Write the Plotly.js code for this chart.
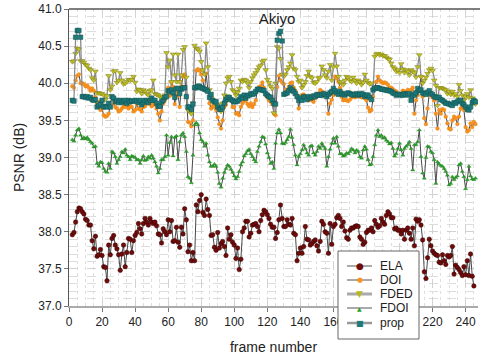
<!DOCTYPE html>
<html><head><meta charset="utf-8">
<script src="https://cdn.plot.ly/plotly-3.0.1.min.js"></script>
<style>html,body{margin:0;padding:0;background:#fff}#chart{width:480px;height:358px}</style>
</head><body><div id="chart"></div>
<script>
const firstFrame = 2, lastFrame = 246;
const frames = [];
for (let f = firstFrame; f <= lastFrame; f++) frames.push(f);

// x tick labels; 180 and 200 sit behind the legend box in the reference
const xTickVals = [0, 20, 40, 60, 80, 100, 120, 140, 160, 180, 200, 220, 240];
const xTickText = ['0', '20', '40', '60', '80', '100', '120', '140', '160', '', '', '220', '240'];

const ELA = [
37.96,37.99,38.13,38.27,38.32,38.31,38.27,38.24,38.17,38.15,
38.09,38.09,37.88,37.77,37.94,37.67,37.69,37.76,37.68,37.53,
37.52,37.34,37.82,37.69,37.91,37.95,37.82,37.77,37.69,37.48,
37.70,37.82,37.53,37.72,37.91,37.90,37.72,37.88,37.95,37.99,
38.11,38.04,37.97,38.11,38.18,38.13,38.09,38.18,38.13,38.11,
38.13,38.08,37.97,37.96,37.85,38.04,38.00,37.96,38.16,38.00,
38.15,37.87,37.88,38.06,37.86,37.79,38.06,37.97,38.31,38.16,
37.73,37.82,37.61,37.72,37.61,38.36,38.27,38.42,38.50,38.26,
38.22,38.44,38.30,38.22,37.95,37.96,37.79,37.75,37.99,37.78,
37.84,37.87,37.80,37.68,38.05,37.90,37.96,37.86,37.82,37.64,
37.78,37.49,37.63,38.00,38.05,38.14,38.14,37.93,37.98,38.09,
38.10,38.11,38.07,38.00,38.15,38.23,38.29,38.27,38.23,38.18,
38.10,38.06,38.06,37.91,37.99,38.16,38.36,38.18,38.07,38.07,
38.16,38.10,38.09,38.18,37.98,37.96,37.61,37.71,37.78,37.71,
37.80,38.07,37.90,37.89,37.82,37.84,37.87,37.89,37.81,37.74,
37.87,38.14,38.10,38.00,37.98,37.71,38.11,37.83,38.07,38.10,
38.19,38.22,38.18,38.07,38.13,38.01,37.92,37.90,38.02,38.05,
38.05,38.07,38.08,38.07,37.93,37.90,37.83,37.86,37.99,38.02,
38.02,38.05,38.00,38.15,38.10,38.06,38.08,38.18,38.13,38.10,
38.22,38.27,38.24,38.19,38.19,38.04,38.05,38.02,38.02,37.97,
38.02,37.90,38.02,38.05,37.98,37.90,38.05,37.81,38.17,38.14,
38.16,38.09,37.89,37.46,37.37,37.65,37.90,37.81,37.74,37.71,
37.69,37.68,37.59,37.58,37.69,37.61,37.56,37.68,37.66,37.68,
37.80,37.43,37.55,37.52,37.49,37.45,37.41,37.53,37.42,37.61,
37.41,37.70,37.40,37.27,null];

const DOI = [
39.96,39.94,40.04,40.10,40.12,40.00,40.00,39.99,39.96,39.97,
39.94,39.90,39.93,39.90,39.81,39.73,39.75,39.64,39.66,39.57,
39.55,39.56,39.59,39.69,39.81,39.73,39.68,39.66,39.62,39.63,
39.66,39.69,39.68,39.72,39.66,39.69,39.68,39.62,39.64,39.72,
39.66,39.65,39.62,39.68,39.69,39.73,39.74,39.72,39.69,39.71,
39.72,39.66,39.59,39.50,39.62,39.73,39.77,39.82,39.94,39.83,
40.01,39.95,39.72,39.87,39.83,39.68,39.96,40.09,40.12,39.82,
39.48,39.47,39.42,39.50,39.93,40.17,40.19,40.17,40.12,40.04,
39.91,40.13,39.92,39.73,39.66,39.69,39.68,39.64,39.54,39.45,
39.39,39.50,39.68,39.71,39.77,39.82,39.77,39.68,39.68,39.59,
39.60,39.57,39.68,39.73,39.76,39.77,39.72,39.69,39.73,39.68,
39.72,39.77,39.91,39.95,39.96,40.01,39.94,39.84,39.81,39.77,
39.75,39.72,39.59,39.57,39.95,40.10,40.04,40.01,39.99,39.91,
39.90,39.95,40.00,40.01,39.94,39.90,39.84,39.66,39.81,39.84,
39.85,39.82,39.81,39.77,39.81,39.77,39.75,39.80,39.82,39.86,
39.91,39.89,39.85,39.85,39.84,39.59,39.73,39.78,39.84,40.09,
40.07,40.02,39.94,39.82,39.77,39.78,39.77,39.76,39.78,39.81,
39.83,39.81,39.82,39.83,39.82,39.81,39.83,39.80,39.77,39.67,
39.62,39.64,39.82,39.94,40.02,40.09,40.04,40.02,40.00,40.01,
40.00,39.98,39.94,39.94,39.92,39.90,39.89,39.86,39.86,39.86,
39.90,39.89,39.87,39.91,39.90,39.91,39.94,39.59,39.77,39.84,
39.93,40.09,39.82,39.53,39.45,39.66,39.86,39.84,39.81,39.77,
39.59,39.39,39.64,39.59,39.65,39.64,39.55,39.46,39.39,39.38,
39.50,39.55,39.53,39.45,39.55,39.66,39.68,39.64,39.41,39.35,
39.37,39.46,39.41,39.48,39.45];

const FDED = [
40.29,40.30,40.40,40.47,40.46,40.30,40.30,40.28,40.25,40.24,
40.20,40.18,40.07,40.04,40.16,39.87,39.87,39.86,39.86,39.84,
39.78,39.83,40.10,39.91,39.96,40.16,40.17,40.01,40.04,40.14,
40.04,39.99,40.00,40.02,40.05,40.04,40.05,40.09,40.01,39.89,
39.92,39.91,39.86,39.91,39.89,39.86,39.84,39.90,39.91,40.04,
39.86,39.85,39.84,39.82,39.80,39.81,39.84,40.41,40.22,40.31,
40.02,40.39,40.11,40.02,40.39,40.02,40.11,40.45,40.49,40.08,
39.64,39.62,39.59,39.73,40.51,40.47,40.46,40.43,40.29,40.18,
40.12,40.54,40.22,39.91,39.80,39.77,39.73,39.72,39.71,39.66,
39.62,39.73,39.84,40.00,40.07,40.09,40.02,39.91,39.89,39.84,
39.88,39.93,40.04,40.02,40.05,40.04,40.00,39.94,40.02,40.07,
40.11,40.14,40.18,40.22,40.24,40.29,40.31,40.18,40.05,40.01,
39.96,39.93,39.60,40.00,40.49,40.47,40.33,40.12,40.09,40.12,
40.18,40.22,40.27,40.38,40.20,40.18,40.09,40.02,40.04,39.94,
39.98,40.02,40.10,40.16,40.09,40.07,40.01,40.00,40.02,40.07,
40.08,40.23,40.18,40.11,40.07,40.16,40.25,40.04,40.22,40.40,
40.23,40.09,40.02,40.00,39.98,40.04,40.09,40.07,40.04,40.02,
40.08,40.04,40.00,40.04,40.02,39.98,40.01,40.12,40.04,40.01,
39.99,40.00,39.91,40.36,40.39,40.40,40.38,40.39,40.37,40.37,
40.35,40.33,40.32,40.27,40.22,40.20,40.16,40.18,40.14,40.26,
40.19,40.14,40.18,40.16,40.11,40.18,40.16,40.14,40.08,40.22,
40.38,40.09,40.00,40.04,40.08,40.13,40.18,40.20,40.17,40.04,
39.97,39.70,39.94,39.94,39.93,39.92,39.91,39.86,39.89,39.85,
39.89,39.84,39.86,39.82,39.98,39.90,39.84,39.77,39.82,39.86,
39.81,39.91,39.80,39.77,39.72];

const FDOI = [
39.24,39.22,39.30,39.37,39.39,39.30,39.25,39.27,39.25,39.27,
39.24,39.21,39.19,39.14,39.15,38.92,38.88,38.94,38.93,38.85,
38.81,38.80,38.92,38.85,39.08,39.06,39.01,38.92,38.97,39.01,
39.08,39.06,39.11,39.03,39.01,38.97,39.02,39.01,39.00,38.97,
38.97,38.92,38.97,39.02,38.96,38.97,39.01,38.99,39.03,38.99,
38.94,38.88,38.79,38.85,38.97,38.97,39.01,39.30,39.03,39.20,
39.28,39.02,39.27,39.29,38.97,39.21,39.30,39.33,39.28,39.08,
38.74,38.72,38.66,39.03,39.44,39.47,39.44,39.33,39.24,39.21,
39.15,39.19,39.03,38.94,38.88,38.88,38.91,38.88,38.80,38.65,
38.60,38.72,38.80,38.85,38.90,38.88,38.84,38.80,38.75,38.71,
38.74,38.81,38.90,38.94,39.02,39.05,39.09,39.11,39.05,39.01,
38.97,38.94,39.08,39.15,39.21,39.28,39.27,39.18,39.06,39.00,
38.92,38.94,38.85,39.19,39.33,39.38,39.33,39.19,39.18,39.20,
39.24,39.28,39.38,39.27,39.17,39.03,38.90,39.01,39.05,39.10,
39.17,39.12,39.06,39.03,39.15,39.16,39.06,39.03,39.08,39.15,
39.12,39.19,39.15,39.12,38.88,39.01,39.11,39.19,39.26,39.19,
39.28,39.15,39.05,39.05,39.02,39.03,39.06,39.05,39.08,39.12,
39.10,39.06,39.10,39.08,39.01,38.99,39.10,39.15,39.11,38.97,
38.90,38.91,39.01,39.17,39.30,39.37,39.28,39.30,39.26,39.27,
39.23,39.21,39.18,39.20,39.12,39.02,39.05,39.12,39.19,39.10,
39.03,39.12,39.15,39.17,39.21,39.12,38.83,39.17,39.17,39.21,
39.37,39.01,38.79,38.72,39.00,39.15,39.14,39.08,39.06,38.97,
38.65,38.94,38.91,38.89,38.88,38.85,38.81,38.76,38.63,38.65,
38.74,38.70,38.73,38.75,38.90,38.92,38.81,38.74,38.58,38.70,
38.88,38.75,38.71,38.70,38.72];

const prop = [
39.77,39.76,40.62,40.71,40.71,40.62,39.82,39.82,39.81,39.82,
39.80,39.81,39.78,39.77,39.78,39.68,39.70,39.72,39.77,39.68,
39.69,39.68,39.73,39.68,39.82,39.80,39.75,39.77,39.74,39.77,
39.74,39.76,39.77,39.73,39.77,39.75,39.76,39.76,39.77,39.76,
39.74,39.77,39.71,39.74,39.77,39.76,39.74,39.77,39.80,39.77,
39.77,39.73,39.69,39.69,39.75,39.77,39.81,39.82,39.90,39.89,
39.91,39.87,39.81,39.93,39.93,39.86,39.92,39.94,39.94,39.82,
39.68,39.68,39.65,39.72,39.94,39.94,39.96,39.96,39.94,39.93,
39.92,39.91,39.89,39.81,39.85,39.77,39.75,39.75,39.68,39.65,
39.65,39.68,39.73,39.78,39.81,39.81,39.78,39.77,39.75,39.75,
39.76,39.78,39.82,39.80,39.84,39.80,39.83,39.84,39.86,39.85,
39.86,39.89,39.92,39.92,39.91,39.91,39.90,39.86,39.84,39.82,
39.81,39.77,39.73,39.72,40.58,40.67,40.70,40.57,39.85,39.86,
39.87,39.90,39.94,39.91,39.89,39.86,39.82,39.77,39.80,39.77,
39.82,39.81,39.78,39.82,39.80,39.81,39.83,39.82,39.85,39.84,
39.84,39.84,39.86,39.85,39.82,39.85,39.87,39.89,39.93,39.90,
39.87,39.85,39.89,39.86,39.85,39.84,39.86,39.87,39.86,39.85,
39.84,39.85,39.86,39.84,39.85,39.86,39.85,39.82,39.84,39.84,
39.81,39.78,39.91,39.93,39.94,39.94,39.93,39.92,39.92,39.91,
39.91,39.90,39.90,39.89,39.87,39.86,39.84,39.85,39.85,39.84,
39.84,39.86,39.85,39.84,39.86,39.77,39.84,39.84,39.87,39.93,
39.90,39.91,39.87,39.86,39.85,39.88,39.90,39.86,39.85,39.82,
39.81,39.81,39.81,39.78,39.77,39.75,39.73,39.73,39.72,39.71,
39.70,39.74,39.73,39.75,39.77,39.77,39.73,39.71,39.68,39.65,
39.64,39.68,39.74,39.77,39.75];

const seriesNames = ['ELA', 'DOI', 'FDED', 'FDOI', 'prop'];
const seriesData = [ELA, DOI, FDED, FDOI, prop];
const styles = [
  {line: {color: '#4a4a4a', width: 1}, marker: {symbol: 'circle', size: 4.5, color: '#6e0b0b', line: {color: '#3a0000', width: 0.5}},
   legendLine: {color: '#555', width: 1}, glyph: '\u25CF', glyphSize: 9, glyphColor: '#6e0b0b'},
  {line: {color: '#4a4a4a', width: 1}, marker: {symbol: 'circle', size: 3.8, color: '#f7931e', line: {color: '#e07a10', width: 0.3}},
   legendLine: {color: '#555', width: 1}, glyph: '\u25CF', glyphSize: 7, glyphColor: '#f7931e'},
  {line: {color: '#8c8c8c', width: 1.3}, marker: {symbol: 'triangle-down', size: 5, color: '#c2c22a', line: {color: '#7d7d10', width: 0.5}},
   legendLine: {color: '#aaa', width: 3}, glyph: '\u25BC', glyphSize: 9, glyphColor: '#b8b820'},
  {line: {color: '#4a4a4a', width: 1}, marker: {symbol: 'triangle-up', size: 3.8, color: '#2ca02c', line: {color: '#1d7a1d', width: 0.3}},
   legendLine: {color: '#555', width: 1}, glyph: '\u25B2', glyphSize: 6, glyphColor: '#2ca02c'},
  {line: {color: '#8c8c8c', width: 1.3}, marker: {symbol: 'square', size: 4.5, color: '#1f7a7a', line: {color: '#0f5050', width: 0.5}},
   legendLine: {color: '#999', width: 2.5}, glyph: '\u25A0', glyphSize: 8, glyphColor: '#1f7a7a'}
];

const traces = seriesNames.map((name, i) => ({
  type: 'scatter', mode: 'lines+markers', name: name, showlegend: false,
  x: frames, y: seriesData[i],
  line: styles[i].line, marker: styles[i].marker
}));

// custom legend geometry (page pixels -> paper coords)
const PL = 69, PR = 478, PT = 9, PB = 306;
const px = v => (v - PL) / (PR - PL);
const py = v => (PB - v) / (PB - PT);
const legBox = {x0: 338, x1: 419, y0: 251, y1: 339};
const legRowY = [266, 280, 294, 308, 323];
const shapes = [
  {type: 'line', xref: 'paper', yref: 'paper', x0: 0, x1: 1.005, y0: 1, y1: 1, line: {color: '#555', width: 1.5}},
  {type: 'rect', xref: 'paper', yref: 'paper', layer: 'above', x0: px(legBox.x0), x1: px(legBox.x1), y0: py(legBox.y1), y1: py(legBox.y0),
   fillcolor: '#fff', line: {color: '#666', width: 1}}
];
const annotations = [];
seriesNames.forEach((name, i) => {
  const yy = py(legRowY[i]);
  shapes.push({type: 'line', xref: 'paper', yref: 'paper', layer: 'above', x0: px(347), x1: px(372), y0: yy, y1: yy, line: styles[i].legendLine});
  annotations.push({xref: 'paper', yref: 'paper', x: px(359.5), y: yy, text: styles[i].glyph, showarrow: false,
    xanchor: 'center', yanchor: 'middle', font: {family: 'DejaVu Sans', size: styles[i].glyphSize, color: styles[i].glyphColor}});
  annotations.push({xref: 'paper', yref: 'paper', x: px(378), y: yy, text: name, showarrow: false,
    xanchor: 'left', yanchor: 'middle', font: {size: 12, color: '#222'}});
});

const layout = {
  width: 480, height: 358,
  margin: {l: 69, r: 2, t: 9, b: 52},
  paper_bgcolor: '#fff', plot_bgcolor: '#fff',
  showlegend: false,
  font: {family: 'Liberation Sans, Arial, sans-serif', color: '#222', size: 12},
  title: {text: 'Akiyo', font: {size: 15, color: '#222'}, x: 277/480, xanchor: 'center', y: 1 - 19/358, yanchor: 'middle'},
  xaxis: {
    range: [0, 247.5], tickmode: 'array', tickvals: xTickVals, ticktext: xTickText,
    ticks: 'outside', ticklen: 4, tickcolor: '#777',
    showline: true, linecolor: '#aaa', linewidth: 2, zeroline: false,
    showgrid: true, gridcolor: '#d2d2d2', griddash: 'dash', gridwidth: 1,
    minor: {tickmode: 'linear', tick0: 0, dtick: 5, showgrid: true, gridcolor: '#dedede', griddash: 'dot'},
    tickfont: {size: 12, color: '#222'},
    title: {text: 'frame number', font: {size: 14, color: '#222'}, standoff: 14}
  },
  yaxis: {
    range: [37, 41], tick0: 37, dtick: 0.5, tickformat: '.1f', ticks: 'outside', ticklen: 4, tickcolor: '#777',
    showline: true, linecolor: '#555', linewidth: 1, zeroline: false,
    showgrid: true, gridcolor: '#d2d2d2', griddash: 'dash', gridwidth: 1,
    minor: {dtick: 0.1, showgrid: true, gridcolor: '#dddddd', griddash: 'dash'},
    tickfont: {size: 12, color: '#222'},
    title: {text: 'PSNR (dB)', font: {size: 14, color: '#222'}, standoff: 10}
  },
  shapes: shapes,
  annotations: annotations
};

Plotly.newPlot('chart', traces, layout, {displayModeBar: false, staticPlot: true});
</script>
</body></html>
